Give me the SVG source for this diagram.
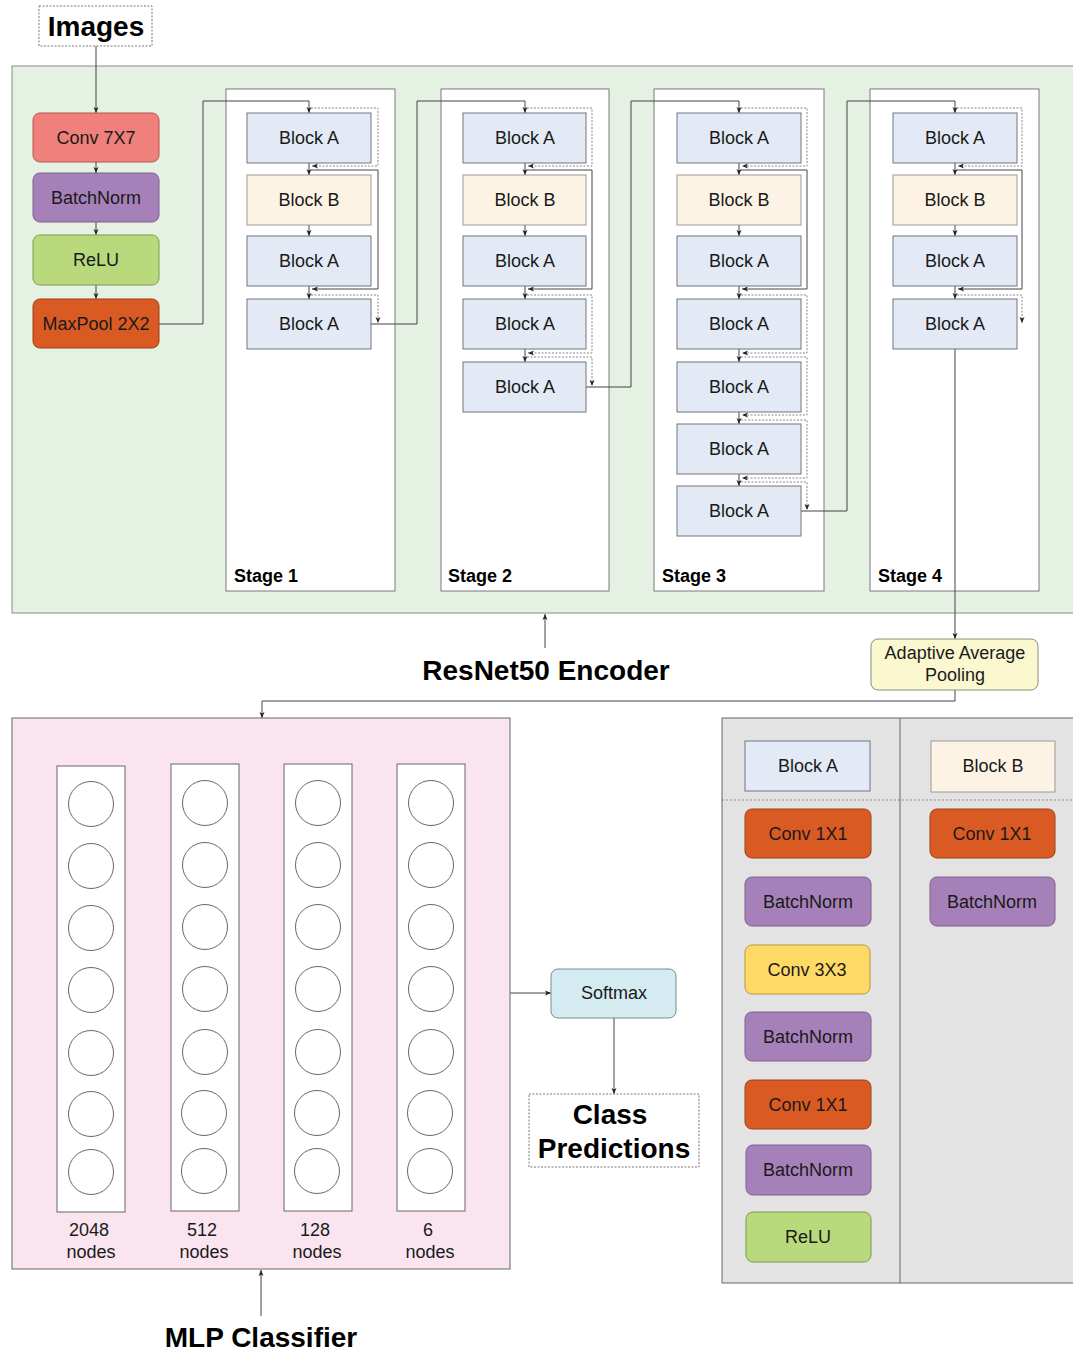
<svg xmlns="http://www.w3.org/2000/svg" width="1073" height="1353" viewBox="0 0 1073 1353">
  <defs>
    <marker id="arr" viewBox="0 0 6 6" refX="6" refY="3" markerWidth="6" markerHeight="6" markerUnits="userSpaceOnUse" orient="auto">
      <path d="M0,0.5 L6,3 L0,5.5 L1.5,3 z" fill="#222"/>
    </marker>
    <style>
      text { font-family: "Liberation Sans", Arial, sans-serif; fill: #1a1a1a; }
      .lbl { font-size: 18px; text-anchor: middle; dominant-baseline: central; }
      .title { font-size: 28px; font-weight: bold; text-anchor: middle; dominant-baseline: central; fill: #000; }
      .stage { font-size: 18px; font-weight: bold; fill: #000; }
      .blockA { fill: #E3EAF6; stroke: #6f7680; stroke-width: 1; }
      .blockB { fill: #FDF3E4; stroke: #9a9a9a; stroke-width: 1; }
      .stagebox { fill: #ffffff; stroke: #7a7a7a; stroke-width: 1; }
      .op { stroke-width: 1; }
      .conv7 { fill: #EF807C; stroke: #b85450; }
      .bn { fill: #A680B8; stroke: #7e6090; }
      .relu { fill: #B8D97C; stroke: #7d9a55; }
      .orange { fill: #DA5A23; stroke: #9c3f18; }
      .conv3 { fill: #FFD966; stroke: #b8993a; }
      .wire { fill: none; stroke: #444; stroke-width: 1; }
      .skip { fill: none; stroke: #888; stroke-width: 1; stroke-dasharray: 2 1.5; }
      .col { fill: #ffffff; stroke: #666; stroke-width: 1; }
      .neuron { fill: #ffffff; stroke: #666; stroke-width: 1; }
    </style>
  </defs>

  <!-- encoder background -->
  <g id="encoder-panel">
    <rect x="12" y="66" width="1070" height="547" fill="#E5F1E3" stroke="#8a8a8a"/>
  </g>

  <!-- stage containers -->
  <g id="stage1">
    <rect class="stagebox" x="226" y="89" width="169" height="502"/>
    <text class="stage" x="234" y="582">Stage 1</text>
  </g>
  <g id="stage2">
    <rect class="stagebox" x="441" y="89" width="168" height="502"/>
    <text class="stage" x="448" y="582">Stage 2</text>
  </g>
  <g id="stage3">
    <rect class="stagebox" x="654" y="89" width="170" height="502"/>
    <text class="stage" x="662" y="582">Stage 3</text>
  </g>
  <g id="stage4">
    <rect class="stagebox" x="870" y="89" width="169" height="502"/>
    <text class="stage" x="878" y="582">Stage 4</text>
  </g>

  <!-- connectors -->
  <g id="connectors">
    <!-- stem -->
    <path class="wire" d="M96,46 V113" marker-end="url(#arr)"/>
    <path class="wire" d="M96,162 V173" marker-end="url(#arr)"/>
    <path class="wire" d="M96,222 V235" marker-end="url(#arr)"/>
    <path class="wire" d="M96,285 V299" marker-end="url(#arr)"/>
    <path class="wire" d="M159,324 H203 V101 H309 V113" marker-end="url(#arr)"/>

    <!-- stage 1 -->
    <path class="wire" d="M309,163 V175" marker-end="url(#arr)"/>
    <path class="wire" d="M309,225 V236" marker-end="url(#arr)"/>
    <path class="wire" d="M309,286 V299" marker-end="url(#arr)"/>
    <path class="skip" d="M311,108 H378 V166 H312" marker-end="url(#arr)"/>
    <path class="wire" d="M311,170 H378 V289 H312" marker-end="url(#arr)"/>
    <path class="skip" d="M311,295 H378 V323" marker-end="url(#arr)"/>
    <path class="wire" d="M371,324 H417 V101 H525 V113" marker-end="url(#arr)"/>

    <!-- stage 2 -->
    <path class="wire" d="M525,163 V175" marker-end="url(#arr)"/>
    <path class="wire" d="M525,225 V236" marker-end="url(#arr)"/>
    <path class="wire" d="M525,286 V299" marker-end="url(#arr)"/>
    <path class="wire" d="M525,349 V362" marker-end="url(#arr)"/>
    <path class="skip" d="M527,108 H592 V166 H528" marker-end="url(#arr)"/>
    <path class="wire" d="M527,170 H592 V289 H528" marker-end="url(#arr)"/>
    <path class="skip" d="M527,295 H592 V353 H528" marker-end="url(#arr)"/>
    <path class="skip" d="M527,357 H592 V386" marker-end="url(#arr)"/>
    <path class="wire" d="M586,387 H631 V101 H739 V113" marker-end="url(#arr)"/>

    <!-- stage 3 -->
    <path class="wire" d="M739,163 V175" marker-end="url(#arr)"/>
    <path class="wire" d="M739,225 V236" marker-end="url(#arr)"/>
    <path class="wire" d="M739,286 V299" marker-end="url(#arr)"/>
    <path class="wire" d="M739,349 V362" marker-end="url(#arr)"/>
    <path class="wire" d="M739,412 V424" marker-end="url(#arr)"/>
    <path class="wire" d="M739,474 V486" marker-end="url(#arr)"/>
    <path class="skip" d="M741,108 H807 V166 H742" marker-end="url(#arr)"/>
    <path class="wire" d="M741,170 H807 V289 H742" marker-end="url(#arr)"/>
    <path class="skip" d="M741,295 H807 V353 H742" marker-end="url(#arr)"/>
    <path class="skip" d="M741,357 H807 V415 H742" marker-end="url(#arr)"/>
    <path class="skip" d="M741,420 H807 V478 H742" marker-end="url(#arr)"/>
    <path class="skip" d="M741,482 H807 V510" marker-end="url(#arr)"/>
    <path class="wire" d="M801,511 H847 V101 H955 V113" marker-end="url(#arr)"/>

    <!-- stage 4 -->
    <path class="wire" d="M955,163 V175" marker-end="url(#arr)"/>
    <path class="wire" d="M955,225 V236" marker-end="url(#arr)"/>
    <path class="wire" d="M955,286 V299" marker-end="url(#arr)"/>
    <path class="skip" d="M957,108 H1022 V166 H958" marker-end="url(#arr)"/>
    <path class="wire" d="M957,170 H1022 V289 H958" marker-end="url(#arr)"/>
    <path class="skip" d="M957,295 H1022 V323" marker-end="url(#arr)"/>
    <path class="wire" d="M955,349 V639" marker-end="url(#arr)"/>

    <!-- head -->
    <path class="wire" d="M955,690 V701 H262 V718" marker-end="url(#arr)"/>
    <path class="wire" d="M510,993 H551" marker-end="url(#arr)"/>
    <path class="wire" d="M614,1018 V1094" marker-end="url(#arr)"/>

    <!-- caption pointers -->
    <path class="wire" d="M545,648 V614" marker-end="url(#arr)"/>
    <path class="wire" d="M261,1316 V1270" marker-end="url(#arr)"/>
  </g>

  <!-- input -->
  <g id="images">
    <rect x="39" y="6" width="113" height="40" fill="#fff" stroke="#777" stroke-dasharray="2 1.5"/>
    <text class="title" x="96" y="26" font-size="29.5">Images</text>
  </g>

  <!-- stem layers -->
  <g id="conv7x7">
    <rect class="op conv7" x="33" y="113" width="126" height="49" rx="7"/>
    <text class="lbl" x="96" y="137.5">Conv 7X7</text>
  </g>
  <g id="stem-batchnorm">
    <rect class="op bn" x="33" y="173" width="126" height="49" rx="7"/>
    <text class="lbl" x="96" y="197.5">BatchNorm</text>
  </g>
  <g id="stem-relu">
    <rect class="op relu" x="33" y="235" width="126" height="50" rx="7"/>
    <text class="lbl" x="96" y="260">ReLU</text>
  </g>
  <g id="maxpool">
    <rect class="op orange" x="33" y="299" width="126" height="49" rx="7"/>
    <text class="lbl" x="96" y="323.5">MaxPool 2X2</text>
  </g>

  <!-- stage 1 blocks -->
  <g id="s1-b1"><rect class="blockA" x="247" y="113" width="124" height="50"/><text class="lbl" x="309" y="138">Block A</text></g>
  <g id="s1-b2"><rect class="blockB" x="247" y="175" width="124" height="50"/><text class="lbl" x="309" y="200">Block B</text></g>
  <g id="s1-b3"><rect class="blockA" x="247" y="236" width="124" height="50"/><text class="lbl" x="309" y="261">Block A</text></g>
  <g id="s1-b4"><rect class="blockA" x="247" y="299" width="124" height="50"/><text class="lbl" x="309" y="324">Block A</text></g>

  <!-- stage 2 blocks -->
  <g id="s2-b1"><rect class="blockA" x="463" y="113" width="123" height="50"/><text class="lbl" x="525" y="138">Block A</text></g>
  <g id="s2-b2"><rect class="blockB" x="463" y="175" width="123" height="50"/><text class="lbl" x="525" y="200">Block B</text></g>
  <g id="s2-b3"><rect class="blockA" x="463" y="236" width="123" height="50"/><text class="lbl" x="525" y="261">Block A</text></g>
  <g id="s2-b4"><rect class="blockA" x="463" y="299" width="123" height="50"/><text class="lbl" x="525" y="324">Block A</text></g>
  <g id="s2-b5"><rect class="blockA" x="463" y="362" width="123" height="50"/><text class="lbl" x="525" y="387">Block A</text></g>

  <!-- stage 3 blocks -->
  <g id="s3-b1"><rect class="blockA" x="677" y="113" width="124" height="50"/><text class="lbl" x="739" y="138">Block A</text></g>
  <g id="s3-b2"><rect class="blockB" x="677" y="175" width="124" height="50"/><text class="lbl" x="739" y="200">Block B</text></g>
  <g id="s3-b3"><rect class="blockA" x="677" y="236" width="124" height="50"/><text class="lbl" x="739" y="261">Block A</text></g>
  <g id="s3-b4"><rect class="blockA" x="677" y="299" width="124" height="50"/><text class="lbl" x="739" y="324">Block A</text></g>
  <g id="s3-b5"><rect class="blockA" x="677" y="362" width="124" height="50"/><text class="lbl" x="739" y="387">Block A</text></g>
  <g id="s3-b6"><rect class="blockA" x="677" y="424" width="124" height="50"/><text class="lbl" x="739" y="449">Block A</text></g>
  <g id="s3-b7"><rect class="blockA" x="677" y="486" width="124" height="50"/><text class="lbl" x="739" y="511">Block A</text></g>

  <!-- stage 4 blocks -->
  <g id="s4-b1"><rect class="blockA" x="893" y="113" width="124" height="50"/><text class="lbl" x="955" y="138">Block A</text></g>
  <g id="s4-b2"><rect class="blockB" x="893" y="175" width="124" height="50"/><text class="lbl" x="955" y="200">Block B</text></g>
  <g id="s4-b3"><rect class="blockA" x="893" y="236" width="124" height="50"/><text class="lbl" x="955" y="261">Block A</text></g>
  <g id="s4-b4"><rect class="blockA" x="893" y="299" width="124" height="50"/><text class="lbl" x="955" y="324">Block A</text></g>

  <!-- captions -->
  <g id="encoder-caption"><text class="title" x="546" y="670" font-size="29">ResNet50 Encoder</text></g>

  <g id="avgpool">
    <rect x="871" y="639" width="167" height="51" rx="7" fill="#FBF7CE" stroke="#8c8c7a"/>
    <text class="lbl" x="955" y="653">Adaptive Average</text>
    <text class="lbl" x="955" y="675">Pooling</text>
  </g>

  <!-- classifier head -->
  <g id="mlp-panel">
    <rect x="12" y="718" width="498" height="551" fill="#F9E4EF" stroke="#666"/>
  </g>

  <g id="layer-2048">
    <rect class="col" x="57" y="766" width="68" height="446"/>
    <circle class="neuron" cx="91" cy="804" r="22.5"/>
    <circle class="neuron" cx="91" cy="866" r="22.5"/>
    <circle class="neuron" cx="91" cy="928" r="22.5"/>
    <circle class="neuron" cx="91" cy="990" r="22.5"/>
    <circle class="neuron" cx="91" cy="1053" r="22.5"/>
    <circle class="neuron" cx="91" cy="1114" r="22.5"/>
    <circle class="neuron" cx="91" cy="1172" r="22.5"/>
    <text class="lbl" x="89" y="1230">2048</text>
    <text class="lbl" x="91" y="1252">nodes</text>
  </g>
  <g id="layer-512">
    <rect class="col" x="171" y="764" width="68" height="447"/>
    <circle class="neuron" cx="205" cy="803" r="22.5"/>
    <circle class="neuron" cx="205" cy="865" r="22.5"/>
    <circle class="neuron" cx="205" cy="927" r="22.5"/>
    <circle class="neuron" cx="205" cy="989" r="22.5"/>
    <circle class="neuron" cx="205" cy="1052" r="22.5"/>
    <circle class="neuron" cx="204" cy="1113" r="22.5"/>
    <circle class="neuron" cx="204" cy="1171" r="22.5"/>
    <text class="lbl" x="202" y="1230">512</text>
    <text class="lbl" x="204" y="1252">nodes</text>
  </g>
  <g id="layer-128">
    <rect class="col" x="284" y="764" width="68" height="447"/>
    <circle class="neuron" cx="318" cy="803" r="22.5"/>
    <circle class="neuron" cx="318" cy="865" r="22.5"/>
    <circle class="neuron" cx="318" cy="927" r="22.5"/>
    <circle class="neuron" cx="318" cy="989" r="22.5"/>
    <circle class="neuron" cx="318" cy="1052" r="22.5"/>
    <circle class="neuron" cx="317" cy="1113" r="22.5"/>
    <circle class="neuron" cx="317" cy="1171" r="22.5"/>
    <text class="lbl" x="315" y="1230">128</text>
    <text class="lbl" x="317" y="1252">nodes</text>
  </g>
  <g id="layer-6">
    <rect class="col" x="397" y="764" width="68" height="447"/>
    <circle class="neuron" cx="431" cy="803" r="22.5"/>
    <circle class="neuron" cx="431" cy="865" r="22.5"/>
    <circle class="neuron" cx="431" cy="927" r="22.5"/>
    <circle class="neuron" cx="431" cy="989" r="22.5"/>
    <circle class="neuron" cx="431" cy="1052" r="22.5"/>
    <circle class="neuron" cx="430" cy="1113" r="22.5"/>
    <circle class="neuron" cx="430" cy="1171" r="22.5"/>
    <text class="lbl" x="428" y="1230">6</text>
    <text class="lbl" x="430" y="1252">nodes</text>
  </g>

  <g id="mlp-caption"><text class="title" x="261" y="1337" font-size="29">MLP Classifier</text></g>

  <g id="softmax">
    <rect x="551" y="969" width="125" height="49" rx="7" fill="#D4EBF2" stroke="#7a8a90"/>
    <text class="lbl" x="614" y="993">Softmax</text>
  </g>

  <g id="class-predictions">
    <rect x="529" y="1094" width="170" height="73" fill="#fff" stroke="#777" stroke-dasharray="2 1.5"/>
    <text class="title" x="610" y="1114" font-size="29">Class</text>
    <text class="title" x="614" y="1148" font-size="29">Predictions</text>
  </g>

  <!-- block legend -->
  <g id="legend-panel">
    <rect x="722" y="718" width="360" height="565" fill="#E3E3E3" stroke="#666"/>
    <line x1="900" y1="718" x2="900" y2="1283" stroke="#666"/>
    <line x1="722" y1="800" x2="1073" y2="800" stroke="#666" stroke-dasharray="1.5 2.5"/>
  </g>

  <g id="legend-block-a"><rect class="blockA" x="745" y="741" width="125" height="50"/><text class="lbl" x="808" y="766">Block A</text></g>
  <g id="a-conv1"><rect class="op orange" x="745" y="809" width="126" height="49" rx="7"/><text class="lbl" x="808" y="833.5">Conv 1X1</text></g>
  <g id="a-bn1"><rect class="op bn" x="745" y="877" width="126" height="49" rx="7"/><text class="lbl" x="808" y="901.5">BatchNorm</text></g>
  <g id="a-conv3"><rect class="op conv3" x="745" y="945" width="125" height="49" rx="7"/><text class="lbl" x="807" y="969.5">Conv 3X3</text></g>
  <g id="a-bn2"><rect class="op bn" x="745" y="1012" width="126" height="49" rx="7"/><text class="lbl" x="808" y="1036.5">BatchNorm</text></g>
  <g id="a-conv1b"><rect class="op orange" x="745" y="1080" width="126" height="49" rx="7"/><text class="lbl" x="808" y="1104.5">Conv 1X1</text></g>
  <g id="a-bn3"><rect class="op bn" x="746" y="1145" width="125" height="50" rx="7"/><text class="lbl" x="808" y="1170">BatchNorm</text></g>
  <g id="a-relu"><rect class="op relu" x="746" y="1212" width="125" height="50" rx="7"/><text class="lbl" x="808" y="1237">ReLU</text></g>

  <g id="legend-block-b"><rect class="blockB" x="931" y="741" width="124" height="51"/><text class="lbl" x="993" y="766">Block B</text></g>
  <g id="b-conv1"><rect class="op orange" x="930" y="809" width="125" height="49" rx="7"/><text class="lbl" x="992" y="833.5">Conv 1X1</text></g>
  <g id="b-bn"><rect class="op bn" x="930" y="877" width="125" height="49" rx="7"/><text class="lbl" x="992" y="901.5">BatchNorm</text></g>
</svg>
